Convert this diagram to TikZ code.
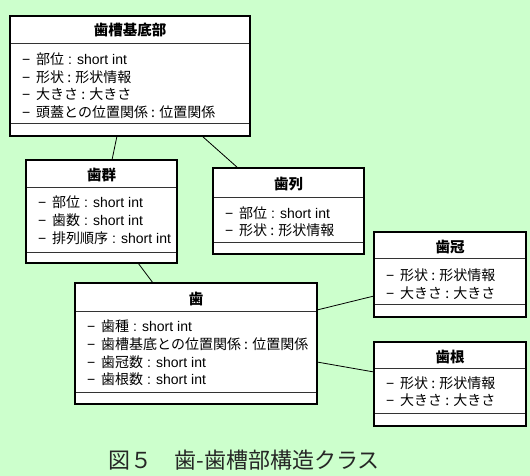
\documentclass[tikz,border=0pt]{standalone}
\usepackage{fontspec}
\setmainfont{Liberation Sans}
\newfontfamily\jp{Noto Sans CJK JP}
\usetikzlibrary{calc}
\definecolor{bg}{HTML}{CCFFCC}
\definecolor{sepc}{HTML}{333333}
\newcommand\dsh{\makebox[14pt][l]{−}}
\tikzset{
 cls/.style={draw=black, line width=1.6pt, fill=white, inner sep=0pt, outer sep=0pt, rectangle},
 sepline/.style={draw=sepc, line width=0.9pt},
 ttl/.style={font=\jp\bfseries\fontsize{14.5}{16}\selectfont, inner sep=0pt, anchor=base},
 attr/.style={font=\fontsize{14}{16}\selectfont, inner sep=0pt, anchor=base west},
 link/.style={draw=black, line width=0.8pt},
}
\begin{document}
\begin{tikzpicture}[x=1pt,y=-1pt]
\fill[bg] (0,0) rectangle (530,476);
\useasboundingbox (0,0) rectangle (530,476);

% 歯槽基底部
\node[cls, minimum width=240pt, minimum height=120pt] (base) at (130,76) {};
\draw[sepline] (11,43) -- (249,43);
\draw[sepline] (11,123) -- (249,123);
\node[ttl] (baset) at (130,36) {歯槽基底部};
\node[attr] (base1) at (22,65) {\dsh{\jp 部位} : short int};
\node[attr] (base2) at (22,82.5) {\dsh{\jp 形状 : 形状情報}};
\node[attr] (base3) at (22,100) {\dsh{\jp 大きさ : 大きさ}};
\node[attr] (base4) at (22,117.5) {\dsh{\jp 頭蓋との位置関係 : 位置関係}};

% 歯群
\node[cls, minimum width=151pt, minimum height=103pt] (grp) at (101.5,211.5) {};
\draw[sepline] (27,187) -- (176,187);
\draw[sepline] (27,252) -- (176,252);
\node[ttl] (grpt) at (101.5,180) {歯群};
\node[attr] (grp1) at (38,207) {\dsh{\jp 部位} : short int};
\node[attr] (grp2) at (38,225) {\dsh{\jp 歯数} : short int};
\node[attr] (grp3) at (38,243) {\dsh{\jp 排列順序} : short int};

% 歯列
\node[cls, minimum width=151pt, minimum height=86pt] (row) at (288.5,211) {};
\draw[sepline] (214,197) -- (363,197);
\draw[sepline] (214,242) -- (363,242);
\node[ttl] (rowt) at (288.5,189) {歯列};
\node[attr] (row1) at (225,218) {\dsh{\jp 部位} : short int};
\node[attr] (row2) at (225,235) {\dsh{\jp 形状 : 形状情報}};

% 歯冠
\node[cls, minimum width=152pt, minimum height=85pt] (crown) at (450,274.5) {};
\draw[sepline] (375,258) -- (525,258);
\draw[sepline] (375,304) -- (525,304);
\node[ttl] (crownt) at (450,252) {歯冠};
\node[attr] (crown1) at (386,280) {\dsh{\jp 形状 : 形状情報}};
\node[attr] (crown2) at (386,298) {\dsh{\jp 大きさ : 大きさ}};

% 歯
\node[cls, minimum width=242pt, minimum height=121pt] (tooth) at (196,343.5) {};
\draw[sepline] (76,311) -- (316,311);
\draw[sepline] (76,392) -- (316,392);
\node[ttl] (tootht) at (196,304) {歯};
\node[attr] (tooth1) at (87,331) {\dsh{\jp 歯種} : short int};
\node[attr] (tooth2) at (87,349) {\dsh{\jp 歯槽基底との位置関係 : 位置関係}};
\node[attr] (tooth3) at (87,367) {\dsh{\jp 歯冠数} : short int};
\node[attr] (tooth4) at (87,384) {\dsh{\jp 歯根数} : short int};

% 歯根
\node[cls, minimum width=152pt, minimum height=84pt] (root) at (450,384) {};
\draw[sepline] (375,368) -- (525,368);
\draw[sepline] (375,413) -- (525,413);
\node[ttl] (roott) at (450,362) {歯根};
\node[attr] (root1) at (386,388) {\dsh{\jp 形状 : 形状情報}};
\node[attr] (root2) at (386,405) {\dsh{\jp 大きさ : 大きさ}};

% connectors
\draw[link] ($(base.south west)+(107,0)$) -- ($(grp.north west)+(86,0)$);
\draw[link] ($(base.south west)+(192,0)$) -- ($(row.north west)+(25,0)$);
\draw[link] ($(grp.south west)+(112,0)$) -- ($(tooth.north west)+(78,0)$);
\draw[link] ($(tooth.north east)+(0,27)$) -- ($(crown.north west)+(0,64)$);
\draw[link] ($(tooth.north east)+(0,79)$) -- ($(root.north west)+(0,30)$);

% caption
\node[inner sep=0pt, text=black!85, font=\jp\fontsize{22}{24}\selectfont] (cap) at (244,460) {図５　歯-歯槽部構造クラス};
\end{tikzpicture}
\end{document}
